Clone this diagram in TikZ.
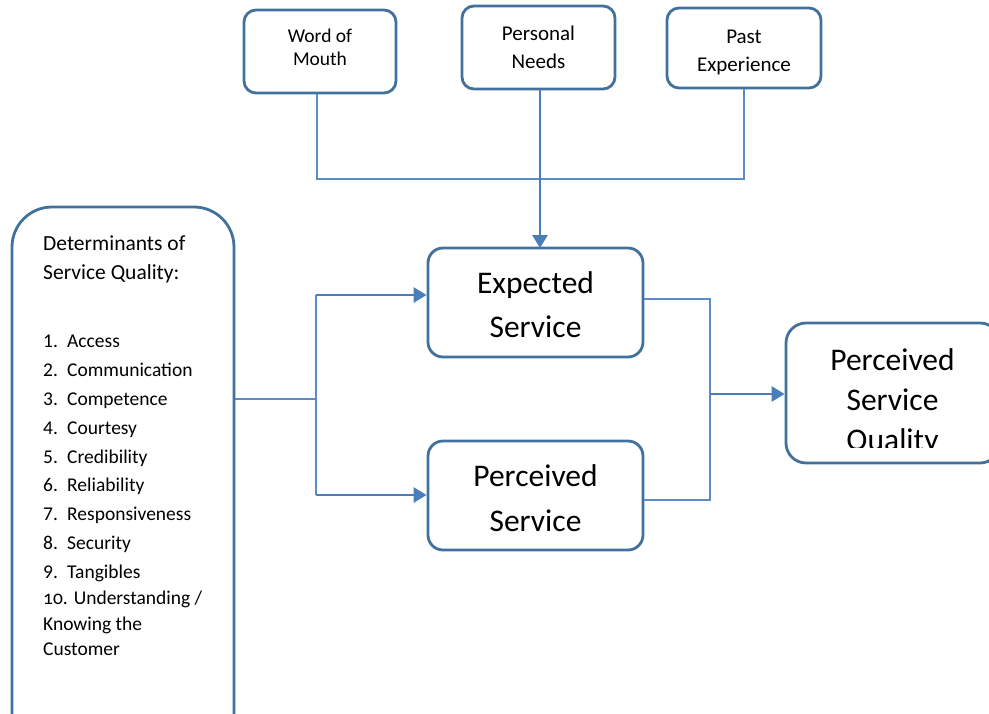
\documentclass[tikz,border=0pt]{standalone}
\usepackage{fontspec}
\setmainfont{Carlito}
\usetikzlibrary{arrows.meta}
\definecolor{boxblue}{RGB}{65,113,156}
\definecolor{arrowblue}{RGB}{74,126,187}
\definecolor{lineblue}{RGB}{92,140,198}
\begin{document}
\begin{tikzpicture}[x=1pt,y=-1pt,
  box/.style={draw=boxblue,line width=2.8pt,rounded corners=12pt,fill=white,align=center,inner sep=0pt},
  link/.style={lineblue,line width=1.2pt},
  feed/.style={arrowblue,line width=2.8pt,-{Triangle[length=13pt,width=15pt]}},
  item/.style={anchor=base west,inner sep=0pt,font=\fontsize{19.5}{26}\selectfont}]
\useasboundingbox (0,0) rectangle (989,713);
% sources of expectation
\node[box,minimum width=152pt,minimum height=83pt,font=\fontsize{19.5}{23}\selectfont] (wom) at (320,51.5) {Word of\\Mouth\rule[-9pt]{0pt}{0pt}};
\node[box,minimum width=153pt,minimum height=83pt,font=\fontsize{21}{28}\selectfont] (needs) at (538.5,47.5) {Personal\\Needs};
\node[box,minimum width=154pt,minimum height=80pt,font=\fontsize{21}{28}\selectfont] (past) at (744,48) {\rule{0pt}{23pt}Past\\Experience};
% determinants
\node[box,rounded corners=40pt,minimum width=222pt,minimum height=553pt] (det) at (123,483.5) {};
\node[anchor=base west,inner sep=0pt,font=\fontsize{21.5}{29}\selectfont] (dethead) at (43,250) {Determinants of};
\node[anchor=base west,inner sep=0pt,font=\fontsize{21.5}{29}\selectfont] (dethead2) at (43,279) {Service Quality:};
\foreach \y/\n/\t [count=\i] in {347/1./Access,376/2./Communication,405/3./Competence,434/4./Courtesy,463/5./Credibility,491.5/6./Reliability,520/7./Responsiveness,549/8./Security,578/9./Tangibles} {
  \node[item] (num\i) at (43,\y) {\n};
  \node[item] (det\i) at (67,\y) {\t};
}
\node[item] (det10) at (43,604) {\addfontfeatures{Numbers=OldStyle}10. Understanding /};
\node[item] (det11) at (43,630) {Knowing the};
\node[item] (det12) at (43,655) {Customer};
% service boxes
\node[box,rounded corners=15pt,minimum width=215pt,minimum height=109pt,font=\fontsize{31.5}{44}\selectfont] (exp) at (535.5,302.5) {\rule{0pt}{27pt}Expected\\Service};
\node[box,rounded corners=15pt,minimum width=215pt,minimum height=109pt,font=\fontsize{31.5}{45}\selectfont] (perc) at (535.5,495.5) {\rule{0pt}{28pt}Perceived\\Service};
\node[box,rounded corners=20pt,minimum width=214pt,minimum height=140pt] (psq) at (893,393) {};
\begin{scope}
\clip (786,323) rectangle (989,447);
\node[align=center,inner sep=0pt,font=\fontsize{31.5}{40}\selectfont] (psqtext) at (892.5,402) {Perceived\\Service\\Quality};
\end{scope}
% connectors
\coordinate (jt) at (317,179);
\draw[link] (wom.south -| jt) -- (jt) -- (jt -| past.south) -- (past.south);
\draw[feed] (needs.south -| 540,0) -- (540,248);
\coordinate (jl) at (316,399);
\coordinate (ja) at (316,295);
\coordinate (jb) at (316,495);
\draw[link] (det.east |- jl) -- (jl);
\draw[link] (ja) -- (jb);
\draw[feed] (ja) -- (exp.west |- ja);
\draw[feed] (jb) -- (perc.west |- jb);
\coordinate (jr) at (710,394);
\draw[link] (exp.east |- 0,299) -- (710,299) -- (710,500) -- (perc.east |- 0,500);
\draw[feed] (jr) -- (psq.west |- jr);
\end{tikzpicture}
\end{document}
